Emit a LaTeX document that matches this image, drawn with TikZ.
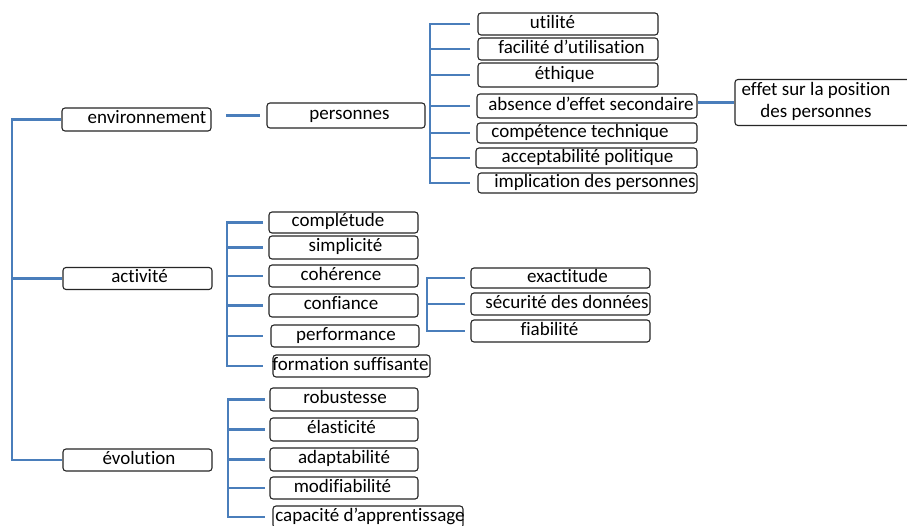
\documentclass[tikz,border=0pt]{standalone}
\usepackage{fontspec}
\setmainfont{Carlito}[Ligatures={NoCommon,NoContextual}]
\usetikzlibrary{calc}
\definecolor{linkblue}{RGB}{74,126,187}
\definecolor{boxline}{RGB}{38,38,38}
\newcommand{\tx}[2]{\makebox[0pt]{\hspace*{#1pt}\strut #2}}
\tikzset{
  box/.style={draw=boxline, line width=1.1pt, rounded corners=3pt, inner sep=0pt,
    font=\fontsize{19}{20}\selectfont, text=black},
  conn/.style={draw=linkblue, line width=2.3pt}
}
\newcommand{\bx}[7]{\node[box, minimum width=#4pt, minimum height=#5pt] (#1) at (#2,#3) {\tx{#6}{#7}};}
\begin{document}
\begin{tikzpicture}[x=1pt,y=-1pt]
\fill[white] (0,0) rectangle (907,525);
\useasboundingbox (0,0) rectangle (907,525);
% level 1
\bx{env}{136.5}{119.5}{149}{23}{21}{environnement}
\bx{act}{137.5}{278.5}{149}{22}{4}{activité}
\bx{evo}{137.5}{460}{149}{22}{3}{évolution}
% personnes
\bx{pers}{346}{115.5}{158}{25}{7}{personnes}
\bx{p1}{568}{24}{180}{22}{-31}{utilité}
\bx{p2}{568}{49}{180}{22}{7}{facilité d’utilisation}
\bx{p3}{568}{75}{180}{24}{-7}{éthique}
\bx{p4}{587}{106}{220}{24}{8}{absence d’effet secondaire}
\bx{p5}{587}{133}{220}{20}{-14}{compétence technique}
\bx{p6}{586.5}{158}{221}{20}{2}{acceptabilité politique}
\bx{p7}{587.5}{183}{219}{20}{15}{implication des personnes}
\node[box, minimum width=180pt, minimum height=46pt,
  font=\fontsize{19}{22}\selectfont] (eff) at (825,102.5)
  {\makebox[0pt]{\hspace*{-18pt}\begin{tabular}{@{}c@{}}effet sur la position\\des personnes\end{tabular}}};
% activite
\bx{a1}{343.5}{222.5}{149}{21}{-11}{complétude}
\bx{a2}{343.5}{247.5}{149}{23}{4}{simplicité}
\bx{a3}{343.5}{276}{149}{22}{-5}{cohérence}
\bx{a4}{343.5}{305.5}{149}{23}{-5}{confiance}
\bx{a5}{345}{336}{148}{22}{2}{performance}
\bx{a6}{351.5}{366}{157}{22}{-2}{formation suffisante}
% donnees
\bx{d1}{560.5}{278}{179}{20}{14}{exactitude}
\bx{d2}{560.5}{304}{179}{22}{13}{sécurité des données}
\bx{d3}{560.5}{331}{179}{22}{-22}{fiabilité}
% evolution
\bx{e1}{344}{399.5}{148}{23}{2}{robustesse}
\bx{e2}{344}{429.5}{148}{23}{-5}{élasticité}
\bx{e3}{344}{459.5}{148}{23}{0}{adaptabilité}
\bx{e4}{344}{488}{148}{22}{-3}{modifiabilité}
\bx{e5}{368}{517}{190}{22}{4}{capacité d’apprentissage}
% spine coordinates
\coordinate (tS) at (12,0);
\coordinate (eA) at (226,0);
\coordinate (pS) at (430,0);
\coordinate (pE) at (470,0);
\coordinate (aS) at (227,0);
\coordinate (aE) at (263,0);
\coordinate (dS) at (427,0);
\coordinate (dE) at (465,0);
\coordinate (vS) at (228,0);
\coordinate (vE) at (265,0);
% trunk
\draw[conn] (env.west) -- (tS |- env.west) -- (tS |- evo.west) -- (evo.west);
\draw[conn] (tS |- act.west) -- (act.west);
% env -> personnes
\draw[conn] (eA |- pers.west) -- ([xshift=-6pt]pers.west);
% personnes bracket
\draw[conn] (pE |- p1.west) -- (pS |- p1.west) -- (pS |- p7.west) -- (pE |- p7.west);
\foreach \n in {p2,p3,p4,p5,p6} \draw[conn] (pS |- \n.west) -- (pE |- \n.west);
% absence -> effet
\draw[conn] (p4.east |- eff.west) -- (eff.west);
% activite bracket
\draw[conn] (aE |- a1.west) -- (aS |- a1.west) -- (aS |- a6.west) -- (aE |- a6.west);
\foreach \n in {a2,a3,a4,a5} \draw[conn] (aS |- \n.west) -- (aE |- \n.west);
% donnees bracket
\draw[conn] (dE |- d1.west) -- (dS |- d1.west) -- (dS |- d3.west) -- (dE |- d3.west);
\draw[conn] (dS |- d2.west) -- (dE |- d2.west);
% evolution bracket
\draw[conn] (vE |- e1.west) -- (vS |- e1.west) -- (vS |- e5.west) -- (vE |- e5.west);
\foreach \n in {e2,e3,e4} \draw[conn] (vS |- \n.west) -- (vE |- \n.west);
\end{tikzpicture}
\end{document}
